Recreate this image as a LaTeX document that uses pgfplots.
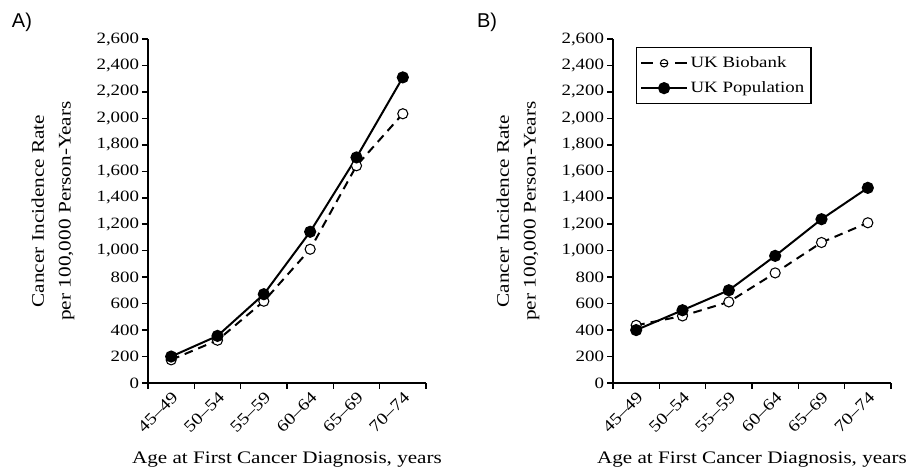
\documentclass[border=0pt]{standalone}
\usepackage{fontspec}
\setmainfont{Liberation Serif}[FakeStretch=1.2]
\newfontfamily\sansf{Liberation Sans}
\usepackage{pgfplots}
\pgfplotsset{compat=1.18}

\pgfplotstableread{
x bio pop
0 175 200
1 323 356
2 618 671
3 1011 1143
4 1642 1705
5 2035 2310
}\tabA
\pgfplotstableread{
x bio pop
0 436 400
1 507 550
2 613 701
3 832 961
4 1062 1238
5 1211 1475
}\tabB

\pgfplotsset{
  panel/.style={
    scale only axis, width=208.5pt, height=258pt,
    axis lines*=left,
    axis line style={line width=1.1pt},
    xmin=-0.5, xmax=5.5, ymin=0, ymax=2600,
    xtick={0,...,5},
    xticklabels={45--49,50--54,55--59,60--64,65--69,70--74},
    minor xtick={-0.5,0.5,...,5.5},
    major x tick style={draw=none},
    minor x tick style={line width=1.1pt,black},
    major y tick style={line width=1.1pt,black},
    tick align=outside,
    major tick length=4.5pt, minor tick length=4.5pt,
    ytick={0,200,...,2600},
    /pgf/number format/assume math mode=true,
    /pgf/number format/1000 sep={,},
    yticklabel style={font=\fontsize{11.8}{14}\selectfont, inner sep=2pt},
    xticklabel style={font=\fontsize{12.3}{14}\selectfont, rotate=45, anchor=north east, inner sep=1pt},
    xlabel={Age at First Cancer Diagnosis, years},
    xlabel style={font=\fontsize{13.2}{16}\selectfont, at={(axis description cs:0.5,-0.224)}, anchor=center},
    ylabel={Cancer Incidence Rate\\per 100,000 Person-Years},
    ylabel style={font=\fontsize{13.3}{20}\selectfont, align=center, at={(axis description cs:-0.342,0.5)}, anchor=center},
  },
  bio/.style={black, line width=1.5pt, dash pattern=on 6.5pt off 4.5pt, mark=*, mark size=3.8pt, mark options={solid, fill=white, line width=0.8pt},
    legend image code/.code={
      \draw[solid, line width=1.5pt] (0cm,0cm) -- (0.3cm,0cm);
      \draw[solid, line width=1.5pt] (0.9cm,0cm) -- (1.2cm,0cm);
      \draw[solid, line width=0.8pt, fill=white] (0.6cm,0cm) circle (2.8pt);
      \draw[solid, line width=0.8pt] (0.5cm,0cm) -- (0.7cm,0cm);
    }},
  pop/.style={black, line width=1.5pt, mark=*, mark size=3.8pt, mark options={solid, fill=black},
    legend image code/.code={\draw[mark repeat=2,mark phase=2] plot coordinates {(0cm,0cm) (0.6cm,0cm) (1.2cm,0cm)};}},
}

\begin{document}
\begin{tikzpicture}
\useasboundingbox (0,0) rectangle (681pt,356.25pt);
\node[font=\sansf\fontsize{15}{18}\selectfont] at (16.5pt,339.75pt) {A)};
\node[font=\sansf\fontsize{15}{18}\selectfont] at (365.25pt,339.75pt) {B)};
\begin{axis}[panel, at={(111pt,69pt)}, anchor=south west]
\addplot[bio] table[x=x,y=bio] {\tabA};
\addplot[pop] table[x=x,y=pop] {\tabA};
\end{axis}
\begin{axis}[panel, at={(459.75pt,69pt)}, anchor=south west,
  legend style={at={(0.082,0.977)}, anchor=north west, draw=black, line width=0.8pt,
    font=\fontsize{11.8}{14}\selectfont, cells={anchor=west}, inner xsep=3pt, inner ysep=5pt, row sep=5pt}]
\addplot[bio] table[x=x,y=bio] {\tabB};
\addlegendentry{UK Biobank}
\addplot[pop] table[x=x,y=pop] {\tabB};
\addlegendentry{UK Population}
\end{axis}
\end{tikzpicture}
\end{document}
